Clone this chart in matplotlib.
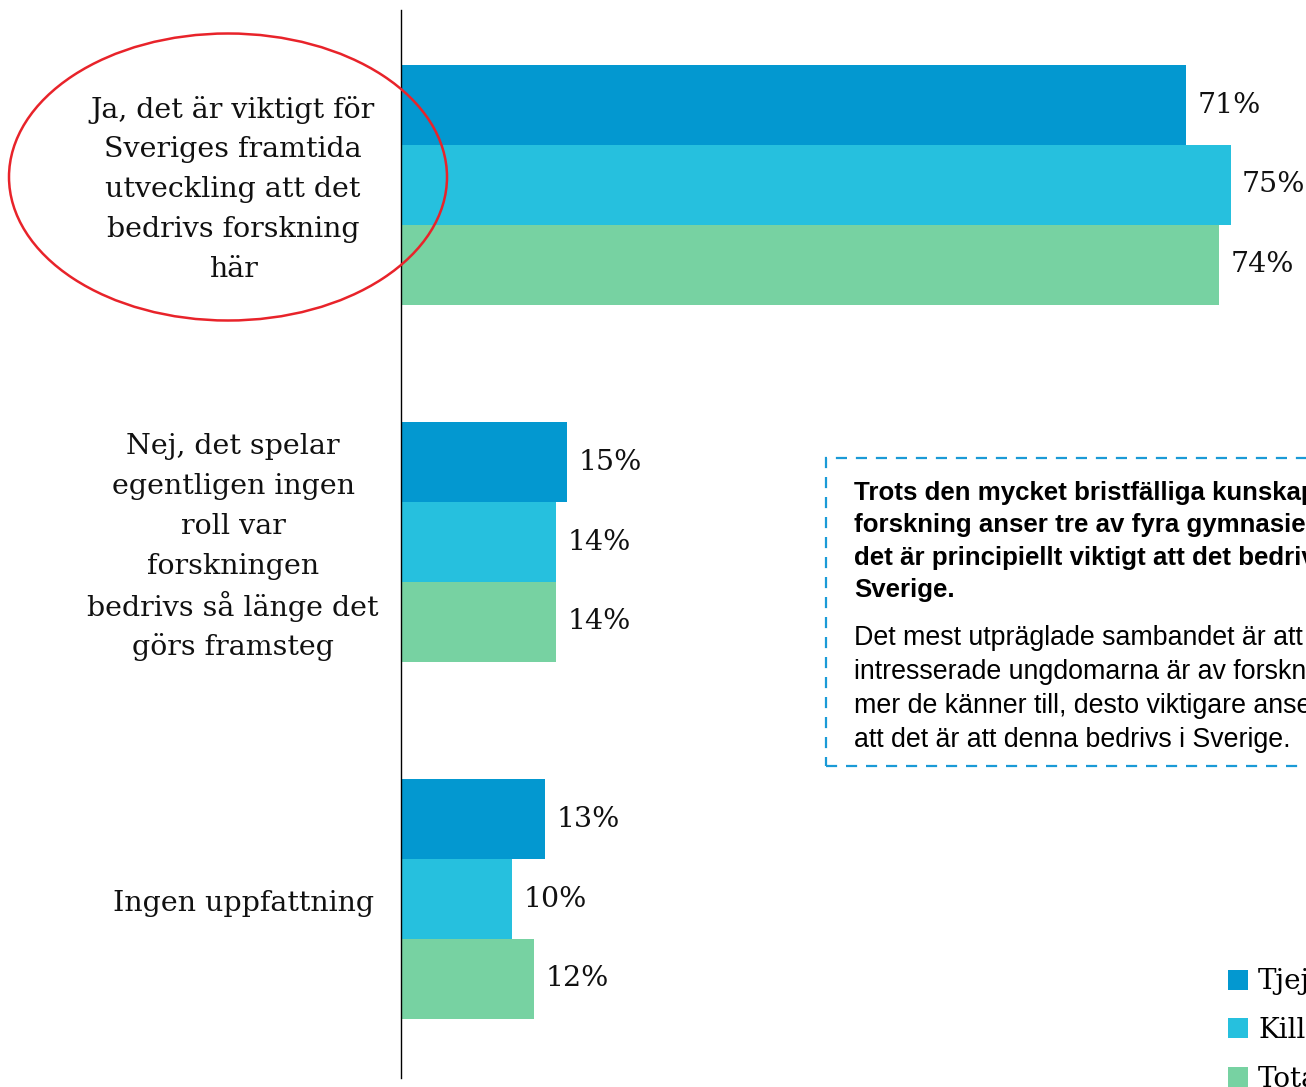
import matplotlib
matplotlib.use("Agg")
import matplotlib.pyplot as plt
from matplotlib.patches import Ellipse, Rectangle
import matplotlib.transforms as mtransforms
import numpy as np

categories = [
    "Ja, det är viktigt för\nSveriges framtida\nutveckling att det\nbedrivs forskning\nhär",
    "Nej, det spelar\negentligen ingen\nroll var\nforskningen\nbedrivs så länge det\ngörs framsteg",
    "Ingen uppfattning",
]
series_names = ["Tjejer", "Killar", "Totalt"]
tjejer = [71, 15, 13]
killar = [75, 14, 10]
totalt = [74, 14, 12]
value_labels = [["71%", "15%", "13%"], ["75%", "14%", "10%"], ["74%", "14%", "12%"]]
colors = ["#0398d0", "#26c0de", "#77d2a2"]

W, H = 1306, 1087
fig = plt.figure(figsize=(W / 100, H / 100), dpi=100)
ax_left, ax_top, ax_bottom = 401, 10, 1078
ax = fig.add_axes([ax_left / W, (H - ax_bottom) / H, (W - ax_left) / W, (ax_bottom - ax_top) / H])

px_per_unit = 11.06
ax.set_xlim(0, (W - ax_left) / px_per_unit)
group_gap = 4.48
centers = np.arange(len(categories)) * group_gap
ylo, yhi = centers[-1] + 2.246, -2.196
ax.set_ylim(ylo, yhi)
px_per_yunit = (ax_bottom - ax_top) / (ylo - yhi)

serif = "DejaVu Serif"
bars = []
for i, (vals, name, col) in enumerate(zip([tjejer, killar, totalt], series_names, colors)):
    y = centers + (i - 1)
    b = ax.barh(y, vals, height=1.0, color=col, label=name, linewidth=0)
    bars.append(b)
    for yy, v, lab in zip(y, vals, value_labels[i]):
        ax.text(v + 1.05, yy, lab, va="center", ha="left", fontsize=20.5, family=serif, color="#111111")

for spine in ["top", "right", "bottom"]:
    ax.spines[spine].set_visible(False)
ax.spines["left"].set_linewidth(1.0)
ax.spines["left"].set_color("black")
ax.set_xticks([])
ax.set_yticks([])

label_x = [233, 233, 244]
line_pitch = 40 / px_per_yunit
blend = mtransforms.blended_transform_factory(fig.transFigure, ax.transData)
for c, lab, lx in zip(centers, categories, label_x):
    lines = lab.split("\n")
    n = len(lines)
    for k, line in enumerate(lines):
        yk = c + (k - (n - 1) / 2) * line_pitch
        ax.text(lx / W, yk + 0.02, line, transform=blend, ha="center", va="center_baseline",
                fontsize=20.5, family=serif, color="#111111")

# red ellipse
ell = Ellipse((228 / W, 1 - 177 / H), 438 / W, 287 / H, transform=fig.transFigure,
              fill=False, edgecolor="#e8232a", linewidth=1.8)
fig.add_artist(ell)

# dashed text box (extends past right edge)
box = Rectangle((826 / W, 1 - 766 / H), 600 / W, (766 - 458) / H, transform=fig.transFigure,
                fill=False, edgecolor="#1a9ad6", linewidth=1.6, linestyle=(0, (5, 4)))
fig.add_artist(box)
bold_lines = "Trots den mycket bristfälliga kunskapen om\nforskning anser tre av fyra gymnasieungdomar att\ndet är principiellt viktigt att det bedrivs forskning i\nSverige."
reg_lines = "Det mest utpräglade sambandet är att ju mer\nintresserade ungdomarna är av forskning och ju\nmer de känner till, desto viktigare anser de\natt det är att denna bedrivs i Sverige."
fig.text(854 / W, 1 - 481 / H, bold_lines, ha="left", va="top", fontsize=18.6, family="Liberation Sans",
         fontweight="bold", linespacing=1.44, color="black")
fig.text(854 / W, 1 - 625 / H, reg_lines, ha="left", va="top", fontsize=19.3, family="Liberation Sans",
         linespacing=1.40, color="black")

fig.legend(handles=bars, labels=series_names, loc="upper left", bbox_to_anchor=(1220 / W, 1 - 960 / H),
           frameon=False, prop={"family": serif, "size": 20}, handlelength=0.72, handleheight=0.72,
           handletextpad=0.35, labelspacing=0.78, borderaxespad=0, borderpad=0.3)

fig.savefig("out.png", dpi=100)
